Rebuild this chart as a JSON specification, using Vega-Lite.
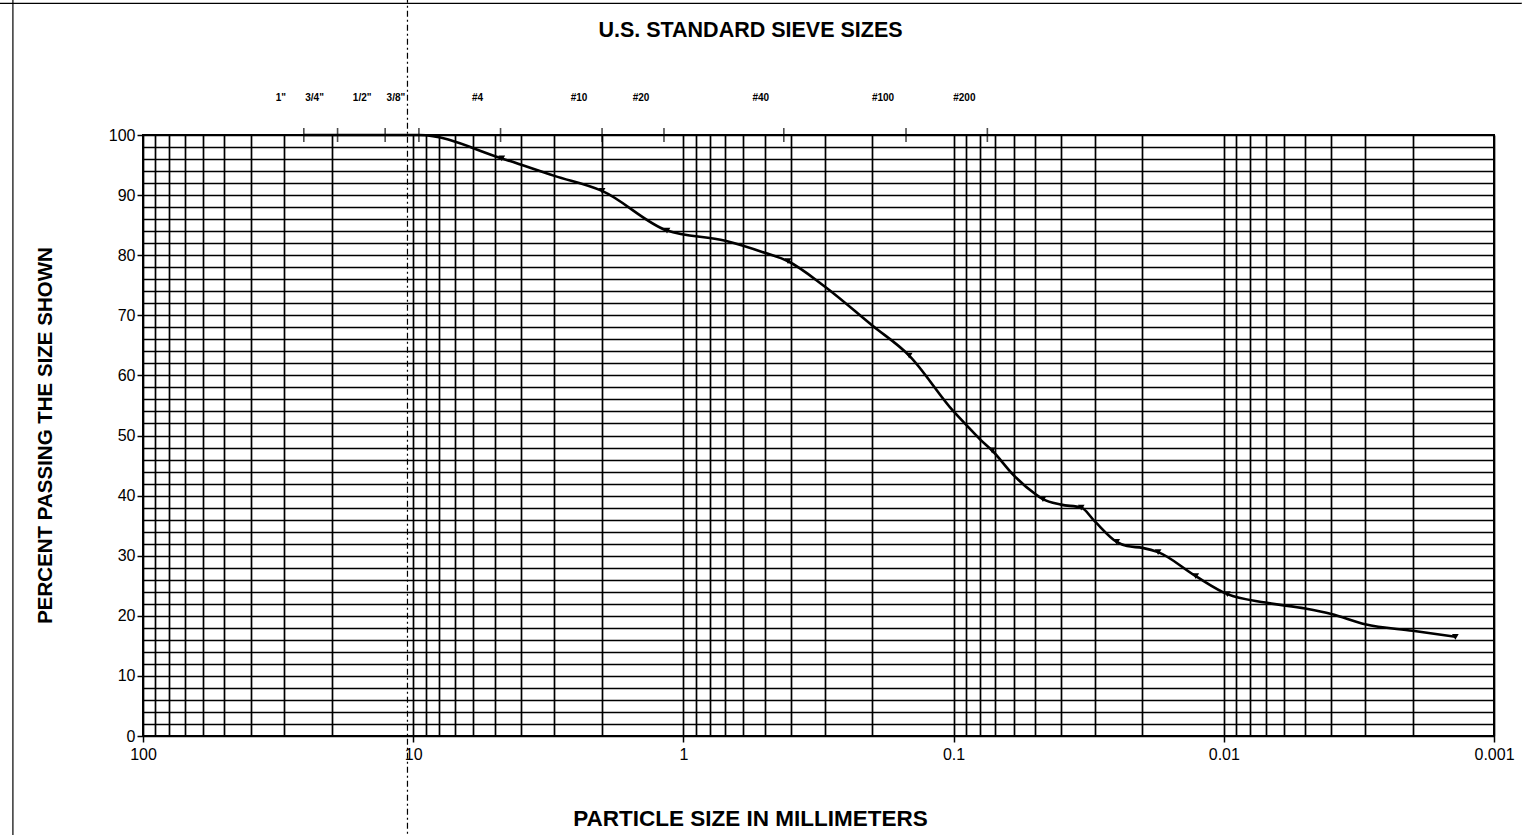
{
  "$schema": "https://vega.github.io/schema/vega-lite/v6.json",
  "autosize": "none",
  "width": 1351,
  "height": 601,
  "padding": {"left": 143, "top": 135, "right": 28, "bottom": 99},
  "background": "white",
  "config": {
    "font": "Liberation Sans",
    "view": {"stroke": "#000", "strokeWidth": 2}
  },
  "resolve": {"axis": {"x": "independent"}},
  "datasets": {
    "curve": [
      {"mm": 25.4, "pct": 100, "kind": "line"},
      {"mm": 19.05, "pct": 100, "kind": "line"},
      {"mm": 12.7, "pct": 100, "kind": "line"},
      {"mm": 9.5, "pct": 100, "kind": "line"},
      {"mm": 4.7, "pct": 96.1, "kind": "test"},
      {"mm": 3.0, "pct": 93.2, "kind": "line"},
      {"mm": 2.0, "pct": 90.7, "kind": "test"},
      {"mm": 1.15, "pct": 84.1, "kind": "test"},
      {"mm": 0.7, "pct": 82.4, "kind": "line"},
      {"mm": 0.5, "pct": 80.4, "kind": "line"},
      {"mm": 0.41, "pct": 79.0, "kind": "test"},
      {"mm": 0.3, "pct": 74.8, "kind": "line"},
      {"mm": 0.2, "pct": 68.3, "kind": "line"},
      {"mm": 0.146, "pct": 63.3, "kind": "test"},
      {"mm": 0.1, "pct": 54.0, "kind": "line"},
      {"mm": 0.09, "pct": 51.8, "kind": "line"},
      {"mm": 0.08, "pct": 49.4, "kind": "line"},
      {"mm": 0.072, "pct": 47.5, "kind": "test"},
      {"mm": 0.06, "pct": 43.4, "kind": "line"},
      {"mm": 0.05, "pct": 40.3, "kind": "line"},
      {"mm": 0.0467, "pct": 39.4, "kind": "test"},
      {"mm": 0.04, "pct": 38.5, "kind": "line"},
      {"mm": 0.0337, "pct": 38.0, "kind": "test"},
      {"mm": 0.03, "pct": 35.7, "kind": "line"},
      {"mm": 0.0249, "pct": 32.3, "kind": "test"},
      {"mm": 0.0228, "pct": 31.6, "kind": "line"},
      {"mm": 0.02, "pct": 31.3, "kind": "line"},
      {"mm": 0.0175, "pct": 30.6, "kind": "test"},
      {"mm": 0.0127, "pct": 26.6, "kind": "test"},
      {"mm": 0.0097, "pct": 23.6, "kind": "test"},
      {"mm": 0.007, "pct": 22.2, "kind": "line"},
      {"mm": 0.005, "pct": 21.2, "kind": "line"},
      {"mm": 0.004, "pct": 20.3, "kind": "line"},
      {"mm": 0.003, "pct": 18.6, "kind": "line"},
      {"mm": 0.002, "pct": 17.5, "kind": "line"},
      {"mm": 0.00139, "pct": 16.5, "kind": "test"}
    ],
    "sieves": [
      {"sieve": "1\"", "mm": 25.4},
      {"sieve": "3/4\"", "mm": 19.05},
      {"sieve": "1/2\"", "mm": 12.7},
      {"sieve": "3/8\"", "mm": 9.525},
      {"sieve": "#4", "mm": 4.75},
      {"sieve": "#10", "mm": 2.0},
      {"sieve": "#20", "mm": 1.18},
      {"sieve": "#40", "mm": 0.425},
      {"sieve": "#100", "mm": 0.15},
      {"sieve": "#200", "mm": 0.075}
    ],
    "scanlines": [
      {"name": "fold", "x": 10.5, "x2": 10.5, "y": 123, "y2": -17},
      {"name": "left edge", "x": 303, "x2": 303, "y": 123, "y2": -17},
      {"name": "top edge", "x": 340, "x2": 0.00078, "y": 121.9, "y2": 121.9}
    ]
  },
  "layer": [
    {
      "data": {"name": "curve"},
      "mark": {"type": "line", "color": "#000", "strokeWidth": 2.6, "interpolate": "monotone", "clip": false},
      "encoding": {
        "x": {
          "field": "mm", "type": "quantitative",
          "scale": {"type": "log", "domain": [0.001, 100], "reverse": true, "nice": false},
          "axis": {
            "orient": "bottom",
            "values": [100, 90, 80, 70, 60, 50, 40, 30, 20, 10, 9, 8, 7, 6, 5, 4, 3, 2, 1, 0.9, 0.8, 0.7, 0.6, 0.5, 0.4, 0.3, 0.2, 0.1, 0.09, 0.08, 0.07, 0.06, 0.05, 0.04, 0.03, 0.02, 0.01, 0.009, 0.008, 0.007, 0.006, 0.005, 0.004, 0.003, 0.002, 0.001],
            "tickCount": 100,
            "grid": true,
            "gridColor": "#000",
            "gridOpacity": 1,
            "gridWidth": 1.7,
            "domain": false,
            "tickColor": "#000",
            "tickSize": 6,
            "tickWidth": 1.5,
            "tickOpacity": {"condition": {"test": "abs(log(datum.value)/LN10 - round(log(datum.value)/LN10)) < 0.001", "value": 1}, "value": 0},
            "labelExpr": "abs(log(datum.value)/LN10 - round(log(datum.value)/LN10)) < 0.001 ? '' + datum.value : ''",
            "labelOverlap": false,
            "labelFlush": false,
            "labelFont": "Liberation Sans",
            "labelFontSize": 16,
            "labelColor": "#000",
            "labelPadding": 4,
            "title": "PARTICLE SIZE IN MILLIMETERS",
            "titleFont": "Liberation Sans",
            "titleFontSize": 22.5,
            "titleFontWeight": "bold",
            "titleColor": "#000",
            "titleX": 607,
            "titleY": 82,
            "titleBaseline": "middle",
            "titleAlign": "center"
          }
        },
        "y": {
          "field": "pct", "type": "quantitative",
          "scale": {"domain": [0, 100], "nice": false},
          "axis": {
            "values": [0, 2, 4, 6, 8, 10, 12, 14, 16, 18, 20, 22, 24, 26, 28, 30, 32, 34, 36, 38, 40, 42, 44, 46, 48, 50, 52, 54, 56, 58, 60, 62, 64, 66, 68, 70, 72, 74, 76, 78, 80, 82, 84, 86, 88, 90, 92, 94, 96, 98, 100],
            "tickCount": 100,
            "grid": true,
            "gridColor": "#000",
            "gridOpacity": 1,
            "gridWidth": 1.7,
            "domain": false,
            "tickColor": "#000",
            "tickSize": 6,
            "tickWidth": 1.5,
            "tickOpacity": {"condition": {"test": "datum.value % 10 === 0", "value": 1}, "value": 0},
            "labelExpr": "datum.value % 10 === 0 ? '' + datum.value : ''",
            "labelOverlap": false,
            "labelFlush": false,
            "labelFont": "Liberation Sans",
            "labelFontSize": 16,
            "labelColor": "#000",
            "labelPadding": 2,
            "title": "PERCENT PASSING THE SIZE SHOWN",
            "titleFont": "Liberation Sans",
            "titleFontSize": 20.5,
            "titleFontWeight": "bold",
            "titleColor": "#000",
            "titleX": -88,
            "titleY": 300,
            "titleAlign": "center"
          }
        },
        "order": {"field": "mm", "type": "quantitative", "sort": "descending"}
      }
    },
    {
      "data": {"name": "curve"},
      "transform": [{"filter": "datum.kind === 'test'"}],
      "mark": {"type": "point", "shape": "triangle-down", "filled": true, "color": "#000", "size": 45, "opacity": 1},
      "encoding": {
        "x": {"field": "mm", "type": "quantitative", "axis": null},
        "y": {"field": "pct", "type": "quantitative"}
      }
    },
    {
      "data": {"name": "sieves"},
      "mark": {"type": "tick", "orient": "vertical", "color": "#000", "size": 14, "thickness": 1.6},
      "encoding": {
        "x": {
          "field": "mm", "type": "quantitative",
          "axis": {
            "orient": "top",
            "title": "U.S. STANDARD SIEVE SIZES",
            "labels": false,
            "ticks": false,
            "domain": false,
            "grid": false,
            "titleFont": "Liberation Sans",
            "titleFontSize": 21.5,
            "titleFontWeight": "bold",
            "titleColor": "#000",
            "titleX": 607,
            "titleY": -105,
            "titleBaseline": "middle",
            "titleAlign": "center"
          }
        },
        "y": {"datum": 100}
      }
    },
    {
      "data": {"name": "sieves"},
      "mark": {"type": "text", "font": "Liberation Sans", "fontSize": 10, "fontWeight": "bold", "color": "#000", "dx": -23, "dy": -37, "baseline": "middle", "align": "center"},
      "encoding": {
        "x": {"field": "mm", "type": "quantitative", "axis": null},
        "y": {"datum": 100},
        "text": {"field": "sieve"}
      }
    },
    {
      "data": {"name": "scanlines"},
      "mark": {"type": "rule", "color": "#000", "strokeWidth": 1.2, "clip": false},
      "encoding": {
        "x": {"field": "x", "type": "quantitative", "axis": null},
        "x2": {"field": "x2"},
        "y": {"field": "y", "type": "quantitative"},
        "y2": {"field": "y2"},
        "strokeDash": {
          "field": "name", "type": "nominal", "legend": null,
          "scale": {"domain": ["fold", "left edge", "top edge"], "range": [[6, 3, 2, 3], [1, 0], [1, 0]]}
        }
      }
    }
  ]
}
